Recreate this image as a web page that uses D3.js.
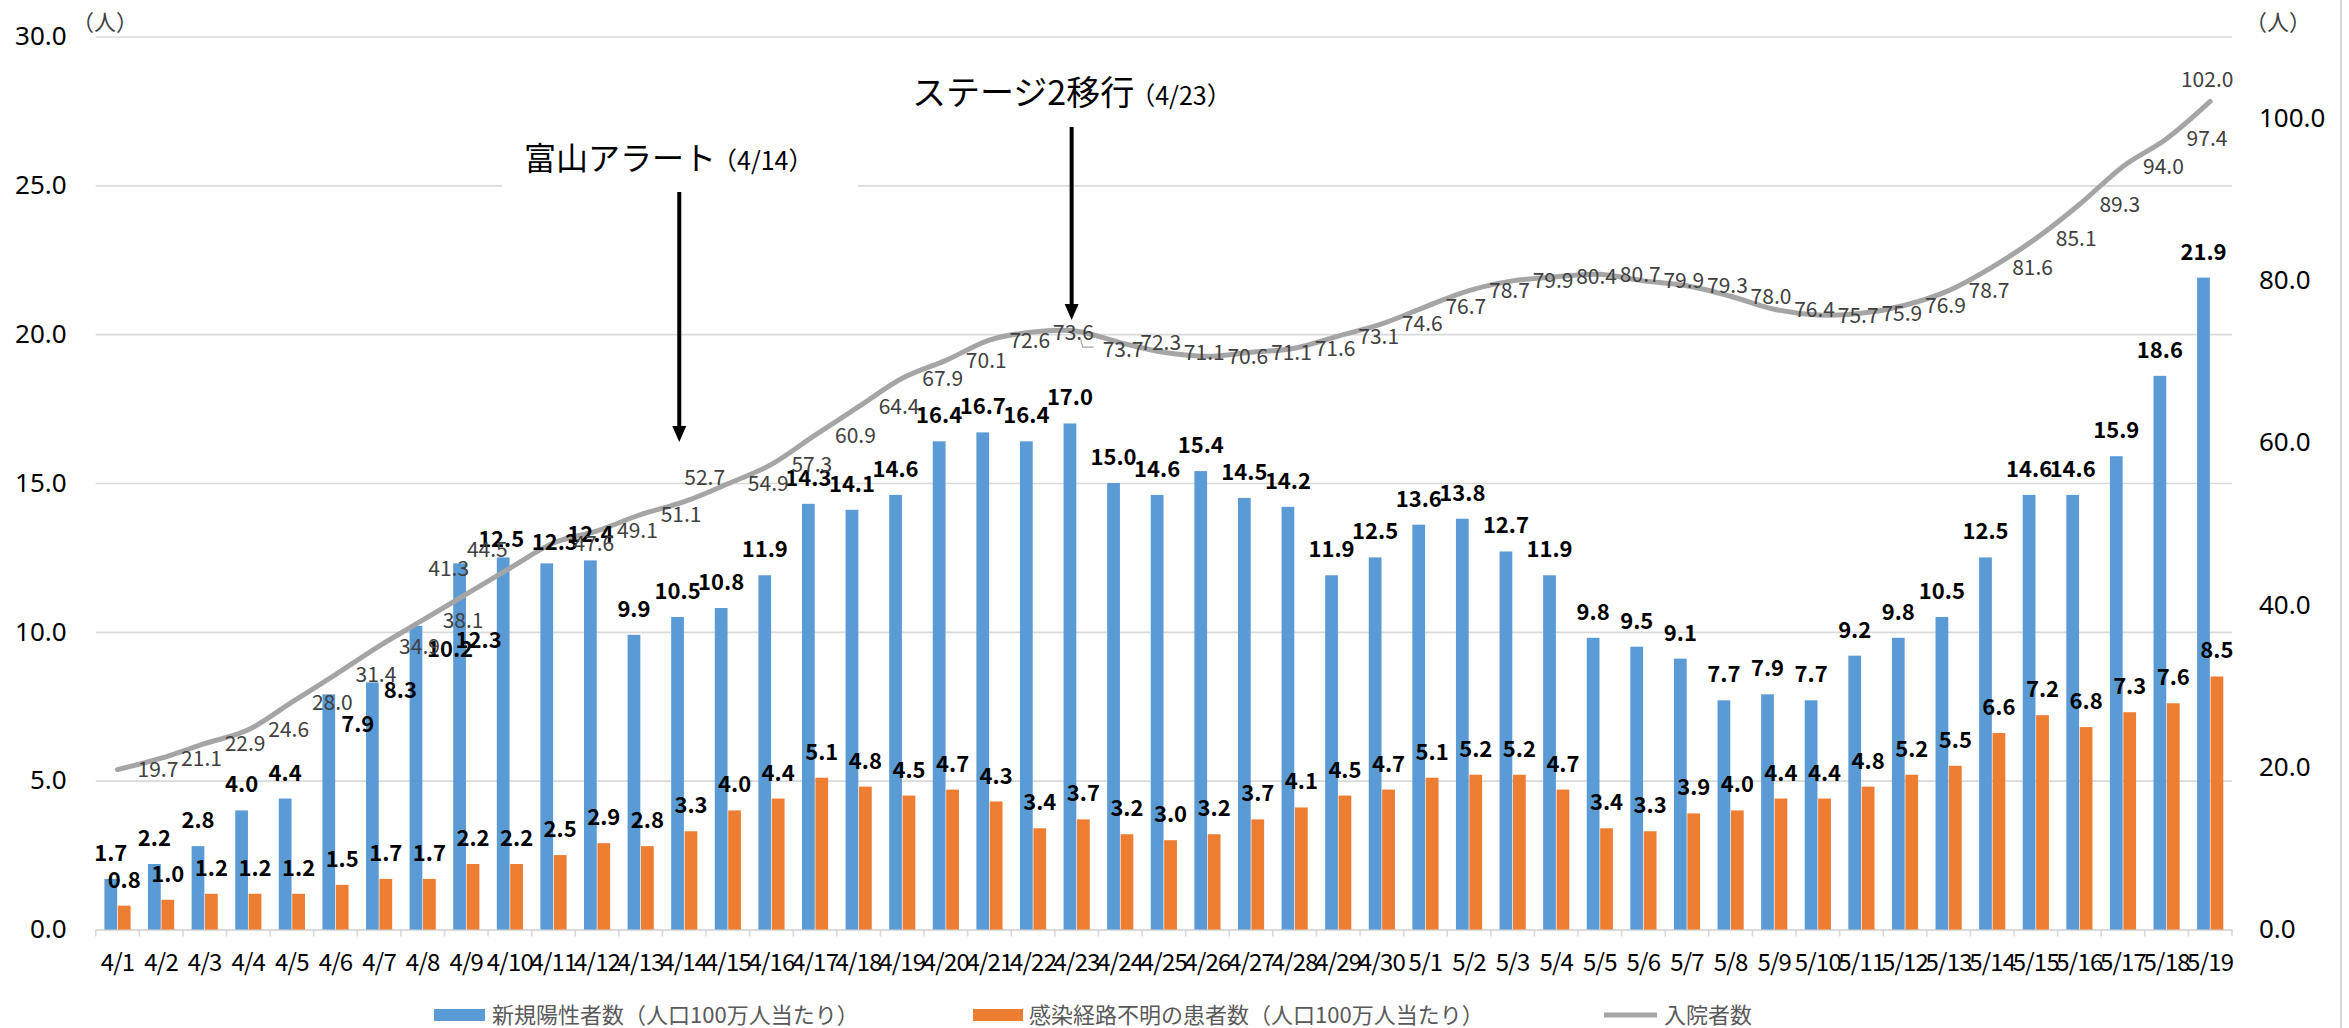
<!DOCTYPE html>
<html>
<head>
<meta charset="utf-8">
<script src="https://cdn.jsdelivr.net/npm/d3@7"></script>
<style>
  html, body { margin: 0; padding: 0; background: #fff; }
  svg { display: block; }
  text { font-family: "Noto Sans CJK JP", "Noto Sans", sans-serif; }
</style>
</head>
<body>
<svg id="chart" width="2349" height="1028"></svg>
<script>
// ---------------- data ----------------
const categories = ["4/1","4/2","4/3","4/4","4/5","4/6","4/7","4/8","4/9","4/10","4/11","4/12","4/13","4/14","4/15","4/16","4/17","4/18","4/19","4/20","4/21","4/22","4/23","4/24","4/25","4/26","4/27","4/28","4/29","4/30","5/1","5/2","5/3","5/4","5/5","5/6","5/7","5/8","5/9","5/10","5/11","5/12","5/13","5/14","5/15","5/16","5/17","5/18","5/19"];
const newPositive = [1.7,2.2,2.8,4.0,4.4,7.9,8.3,10.2,12.3,12.5,12.3,12.4,9.9,10.5,10.8,11.9,14.3,14.1,14.6,16.4,16.7,16.4,17.0,15.0,14.6,15.4,14.5,14.2,11.9,12.5,13.6,13.8,12.7,11.9,9.8,9.5,9.1,7.7,7.9,7.7,9.2,9.8,10.5,12.5,14.6,14.6,15.9,18.6,21.9];
const unknownRoute = [0.8,1.0,1.2,1.2,1.2,1.5,1.7,1.7,2.2,2.2,2.5,2.9,2.8,3.3,4.0,4.4,5.1,4.8,4.5,4.7,4.3,3.4,3.7,3.2,3.0,3.2,3.7,4.1,4.5,4.7,5.1,5.2,5.2,4.7,3.4,3.3,3.9,4.0,4.4,4.4,4.8,5.2,5.5,6.6,7.2,6.8,7.3,7.6,8.5];
const hospitalized = [19.7,21.1,22.9,24.6,28.0,31.4,34.9,38.1,41.3,44.5,47.6,49.1,51.1,52.7,54.9,57.3,60.9,64.4,67.9,70.1,72.6,73.6,73.7,72.3,71.1,70.6,71.1,71.6,73.1,74.6,76.7,78.7,79.9,80.4,80.7,79.9,79.3,78.0,76.4,75.7,75.9,76.9,78.7,81.6,85.1,89.3,94.0,97.4,102.0];
const leftTicks = [0,5,10,15,20,25,30];
const rightTicks = [0,20,40,60,80,100];
const seriesNames = ["新規陽性者数（人口100万人当たり）","感染経路不明の患者数（人口100万人当たり）","入院者数"];
const annotations = [
  {date:"4/14", title:"富山アラート", sub:"（4/14）"},
  {date:"4/23", title:"ステージ2移行", sub:"（4/23）"}
];
// manual label nudges (as moved in the original)
const blueLabelNudge = {"4/6":[29,56],"4/7":[28,34],"4/8":[34,49],"4/9":[19,103],"4/10":[-2,8],"4/11":[8,5]};
const lineLabelNudge = {"4/9":[-58,-26],"4/10":[-63,-19],"4/14":[-20,-24],"4/23":[6,18]};

// ---------------- layout ----------------
const W = 2349, H = 1028;
const plotL = 95.7, plotR = 2232, plotT = 36.5, plotB = 929.5;
const colors = {blue:"#5B9BD5", orange:"#ED7D31", gray:"#A5A5A5", grid:"#D9D9D9"};

const svg = d3.select("#chart");
svg.append("rect").attr("width",W).attr("height",H).attr("fill","#fff");

const x = d3.scaleBand().domain(categories).range([plotL, plotR]).padding(0);
const bw = x.bandwidth();
const xs = d3.scaleBand().domain(["blue","orange"]).range([bw*0.2, bw*0.8]).paddingInner(0.05);
const yL = d3.scaleLinear().domain([0,30]).range([plotB, plotT]);
const yR = d3.scaleLinear().domain([0,110]).range([plotB, plotT]);

// right border of chart area
svg.append("line").attr("x1",2341).attr("x2",2341).attr("y1",0).attr("y2",H)
  .attr("stroke",colors.grid).attr("stroke-width",2);

// gridlines
const grid = svg.append("g").attr("transform",`translate(${plotL},0)`)
  .call(d3.axisLeft(yL).tickValues(leftTicks).tickSize(-(plotR-plotL)).tickFormat(""));
grid.select(".domain").remove();
grid.selectAll("line").attr("stroke",colors.grid).attr("stroke-width",1.6);

// left axis labels
const la = svg.append("g").attr("transform",`translate(${plotL},0)`)
  .call(d3.axisLeft(yL).tickValues(leftTicks).tickSize(0).tickPadding(29).tickFormat(d3.format(".1f")));
la.select(".domain").remove();
la.selectAll("text").attr("font-size",26).attr("fill","#000").style("font-family","'Noto Sans', sans-serif");

// right axis labels
const ra = svg.append("g").attr("transform",`translate(${plotR},0)`)
  .call(d3.axisRight(yR).tickValues(rightTicks).tickSize(0).tickPadding(27).tickFormat(d3.format(".1f")));
ra.select(".domain").remove();
ra.selectAll("text").attr("font-size",26).attr("fill","#000").style("font-family","'Noto Sans', sans-serif");

// unit labels
svg.append("text").attr("x",105).attr("y",30).attr("text-anchor","middle")
  .attr("font-size",22).attr("fill","#404040").text("（人）");
svg.append("text").attr("x",2278).attr("y",30).attr("text-anchor","middle")
  .attr("font-size",22).attr("fill","#404040").text("（人）");

// x axis
const xa = svg.append("g").attr("transform",`translate(0,${plotB})`)
  .call(d3.axisBottom(x).tickSize(0).tickPadding(24));
xa.select(".domain").attr("stroke",colors.grid).attr("stroke-width",1.6);
xa.selectAll("text").attr("font-size",24).attr("fill","#000").attr("letter-spacing","-0.8");
svg.append("g").selectAll("line").data(categories.concat(["__end"])).join("line")
  .attr("x1",d => d === "__end" ? plotR : x(d)).attr("x2",d => d === "__end" ? plotR : x(d))
  .attr("y1",plotB).attr("y2",plotB+7).attr("stroke",colors.grid).attr("stroke-width",1.6);

// bars
const bars = svg.append("g");
bars.selectAll("rect.blue").data(newPositive).join("rect").attr("class","blue")
  .attr("x",(d,i)=>x(categories[i])+xs("blue")).attr("width",xs.bandwidth())
  .attr("y",d=>yL(d)).attr("height",d=>plotB-yL(d)).attr("fill",colors.blue);
bars.selectAll("rect.orange").data(unknownRoute).join("rect").attr("class","orange")
  .attr("x",(d,i)=>x(categories[i])+xs("orange")).attr("width",xs.bandwidth())
  .attr("y",d=>yL(d)).attr("height",d=>plotB-yL(d)).attr("fill",colors.orange);

// line
const line = d3.line().x((d,i)=>x(categories[i])+bw/2).y(d=>yR(d)).curve(d3.curveCatmullRom.alpha(0));
svg.append("path").datum(hospitalized).attr("d",line).attr("fill","none")
  .attr("stroke",colors.gray).attr("stroke-width",5).attr("stroke-linecap","round");

// bar labels
const bl = svg.append("g").attr("font-size",22).attr("fill","#000").attr("text-anchor","middle").attr("font-weight",600)
  .style("font-family","'Noto Sans', sans-serif");
bl.selectAll("text.b").data(newPositive).join("text").attr("class","b")
  .attr("x",(d,i)=>x(categories[i])+xs("blue")+xs.bandwidth()/2+((blueLabelNudge[categories[i]]||[0,0])[0]))
  .attr("y",(d,i)=>yL(d)-18+((blueLabelNudge[categories[i]]||[0,0])[1]))
  .text(d=>d3.format(".1f")(d));
bl.selectAll("text.o").data(unknownRoute).join("text").attr("class","o")
  .attr("x",(d,i)=>x(categories[i])+xs("orange")+xs.bandwidth()/2)
  .attr("y",d=>yL(d)-18)
  .text(d=>d3.format(".1f")(d));

// line labels
const ll = svg.append("g").attr("font-size",21).attr("fill","#404040");
ll.selectAll("text").data(hospitalized).join("text")
  .attr("text-anchor",(d,i)=> i===hospitalized.length-1 ? "middle" : "start")
  .attr("x",(d,i)=>{
    const cx = x(categories[i])+bw/2;
    if (i===hospitalized.length-1) return cx-3;
    return cx+20+((lineLabelNudge[categories[i]]||[0,0])[0]);
  })
  .attr("y",(d,i)=>{
    if (i===hospitalized.length-1) return yR(d)-14;
    return yR(d)+((lineLabelNudge[categories[i]]||[0,0])[1]);
  })
  .attr("dy",(d,i)=> i===hospitalized.length-1 ? "0" : "0.36em")
  .text(d=>d3.format(".1f")(d));
// leader line for moved 4/23 label
{
  const cx = x("4/23")+bw/2, cy = yR(hospitalized[categories.indexOf("4/23")]);
  svg.append("path").attr("d",`M${cx+4},${cy+8}L${cx+6},${cy+16}L${cx+17},${cy+16}`)
    .attr("fill","none").attr("stroke","#A5A5A5").attr("stroke-width",1.2);
}

// annotations
const annoLayout = {"4/14":{tx:524, ty:170, box:[502,118,356,80], top:192, tip:442, fs:32},
                    "4/23":{tx:912, ty:105, box:null, top:127, tip:320, fs:34}};
annotations.forEach(a=>{
  const L = annoLayout[a.date];
  if (L.box) svg.append("rect").attr("x",L.box[0]).attr("y",L.box[1]).attr("width",L.box[2]).attr("height",L.box[3]).attr("fill","#fff");
  const t = svg.append("text").attr("x",L.tx).attr("y",L.ty).attr("fill","#000");
  t.append("tspan").attr("font-size",L.fs).text(a.title);
  t.append("tspan").attr("font-size",25).attr("dx",-4).text(a.sub);
  const ax = x(a.date)+bw/2-5;
  svg.append("line").attr("x1",ax).attr("x2",ax).attr("y1",L.top).attr("y2",L.tip-14)
    .attr("stroke","#000").attr("stroke-width",4);
  svg.append("path").attr("d",`M${ax-7},${L.tip-16}L${ax+7},${L.tip-16}L${ax},${L.tip}Z`).attr("fill","#000");
});

// legend
const lg = svg.append("g").attr("font-size",22).attr("fill","#595959");
lg.append("rect").attr("x",434).attr("y",1009).attr("width",51).attr("height",12).attr("fill",colors.blue);
lg.append("text").attr("x",492).attr("y",1023).text(seriesNames[0]);
lg.append("rect").attr("x",973).attr("y",1009).attr("width",50).attr("height",12).attr("fill",colors.orange);
lg.append("text").attr("x",1029).attr("y",1023).text(seriesNames[1]);
lg.append("line").attr("x1",1604).attr("x2",1657).attr("y1",1015).attr("y2",1015).attr("stroke",colors.gray).attr("stroke-width",5);
lg.append("text").attr("x",1664).attr("y",1023).text(seriesNames[2]);
</script>
</body>
</html>
